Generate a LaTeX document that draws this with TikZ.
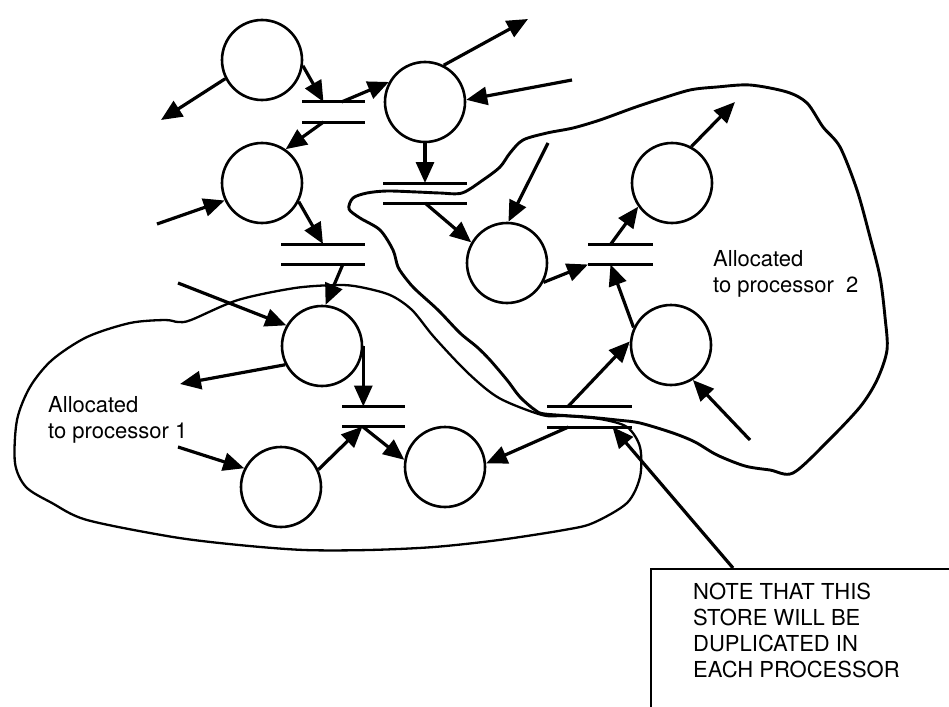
\documentclass[tikz,border=0pt]{standalone}
\usepackage{fontspec}
\setmainfont{TeX Gyre Heros}
\usetikzlibrary{arrows.meta,positioning}

\tikzset{
  bubble/.style={draw=black,circle,line width=2.6pt,minimum size=80pt,inner sep=0pt},
  datastore/.style={inner sep=0pt,outer sep=0pt,minimum height=20pt},
  storeline/.style={draw=black,line width=3pt},
  flow/.style={draw=black,line width=3.2pt,-{Triangle[length=21pt,width=18pt]}},
  regiontext/.style={font=\fontsize{22}{26}\selectfont,align=left,inner sep=0pt},
}

\begin{document}
\begin{tikzpicture}[x=1pt,y=-1pt]
\useasboundingbox (0,0) rectangle (949,706);
% processor regions:
\draw[black,line width=2.3pt] plot[smooth cycle,tension=0.5] coordinates {
  (542,415) (499,398) (468,373) (434,337) (412,310) (390,295) (360,287)
  (338,285) (295,288) (238,300) (191,320) (178,322) (165,320) (130,323)
  (87,337) (52,360) (30,387) (17,420) (15,463) (26,487) (52,503) (87,520)
  (173,537) (239,545) (304,550) (369,550) (434,547) (499,540) (564,530)
  (593,523) (627,503) (640,477) (640,447) (627,427) (600,419) (565,416)};
\draw[black,line width=2.9pt] plot[smooth cycle,tension=0.5] coordinates {
  (545,414) (587,417) (617,420) (640,423) (673,433) (695,442) (717,455)
  (745,466) (770,470) (793,473) (827,442) (860,407) (877,380) (887,350)
  (885,317) (880,277) (870,237) (857,190) (840,147) (823,127) (807,103)
  (787,92) (750,85) (717,87) (690,90) (657,100) (633,108) (600,120)
  (573,128) (547,133) (523,140) (510,153) (500,167) (483,180) (462,193)
  (440,193) (417,192) (387,191) (367,193) (353,198) (349,209) (360,218)
  (380,230) (393,250) (398,267) (407,280) (416,290) (438,310) (460,333)
  (477,347) (490,360) (507,380) (520,397) (535,410)};
% bubbles:
\node[bubble] (c1) at (262,60) {};
\node[bubble] (c2) at (425,102) {};
\node[bubble] (c3) at (262,183) {};
\node[bubble] (c4) at (507,263) {};
\node[bubble] (c5) at (672,183) {};
\node[bubble] (c6) at (671,345) {};
\node[bubble] (c7) at (322,346) {};
\node[bubble] (c8) at (281,487) {};
\node[bubble] (c9) at (445,467) {};
% stores:
\node[datastore,minimum width=63pt] (s1) at (333.5,112) {};
\node[datastore,minimum width=84pt] (s2) at (425,193) {};
\node[datastore,minimum width=84pt] (s3) at (323,254) {};
\node[datastore,minimum width=65pt] (s4) at (620.5,254.5) {};
\node[datastore,minimum width=63pt] (s5) at (373.5,416.5) {};
\node[datastore,minimum width=85pt,minimum height=21pt] (s6) at (589.5,416.5) {};
\foreach \s in {s1,s2,s3,s4,s5,s6}
  \draw[storeline] (\s.north west) -- (\s.north east) (\s.south west) -- (\s.south east);
% loose ends:
\coordinate (c1out) at (161,120);
\coordinate (c2out) at (528,19);
\coordinate (c2in) at (572,80);
\coordinate (c3in) at (157,224);
\coordinate (c4in) at (548,143);
\coordinate (c5out) at (735,102);
\coordinate (c6in) at (750,440);
\coordinate (c7in) at (178,283);
\coordinate (c7out) at (180,384);
\coordinate (c8in) at (178,447);
% flows:
\draw[flow] (c1.-8) -- ([xshift=-10pt]s1.north);
\draw[flow] ([xshift=8pt]s1.north) -- (c2.151);
\draw[flow] (c1.207) -- (c1out);
\draw[flow] ([xshift=-10pt]s1.south) -- (c3.55);
\draw[flow] (c2.63) -- (c2out);
\draw[flow] (c2in) -- (c2.3);
\draw[flow] (c2.south) -- (s2.north);
\draw[flow] (s2.south) -- (c4.150);
\draw[flow] (c4in) -- (c4.88);
\draw[flow] (c3in) -- (c3.205);
\draw[flow] (c3.-27) -- (s3.north);
\draw[flow] ([xshift=20pt]s3.south) -- (c7.85);
\draw[flow] (c7in) -- (c7.150);
\draw[flow] (c7.207) -- (c7out);
\draw[flow] (c7.east) -- (c7.east |- s5.north);
\draw[flow] (c8in) -- (c8.153);
\draw[flow] (c8.25) -- ([xshift=-11pt]s5.south);
\draw[flow] ([xshift=-11pt]s5.south) -- (c9.170);
\draw[flow] ([xshift=-21pt]s6.south) -- (c9.5);
\draw[flow] ([xshift=-21pt]s6.north) -- (c6.175);
\draw[flow] (c6in) -- (c6.-58);
\draw[flow] (c6.155) -- ([xshift=-10pt]s4.south);
\draw[flow] (c4.-28) -- (s4.south west);
\draw[flow] ([xshift=-10pt]s4.north) -- (c5.215);
\draw[flow] (c5.62) -- (c5out);
% texts:
\node[regiontext,anchor=north west] (proc1) at (48,396) {Allocated\\to processor 1};
\node[regiontext,anchor=north west] (proc2) at (713,250) {Allocated\\to processor\ \ 2};
\node[draw=black,line width=2.2pt,anchor=north west,minimum width=330pt,minimum height=170pt] (note) at (650,568) {};
\node[regiontext,below right=15pt and 43pt of note.north west] (notetext) {NOTE THAT THIS\\STORE WILL BE\\DUPLICATED IN\\EACH PROCESSOR};
\draw[flow] ([xshift=83pt]note.north west) -- ([xshift=23pt]s6.south);
\end{tikzpicture}
\end{document}
